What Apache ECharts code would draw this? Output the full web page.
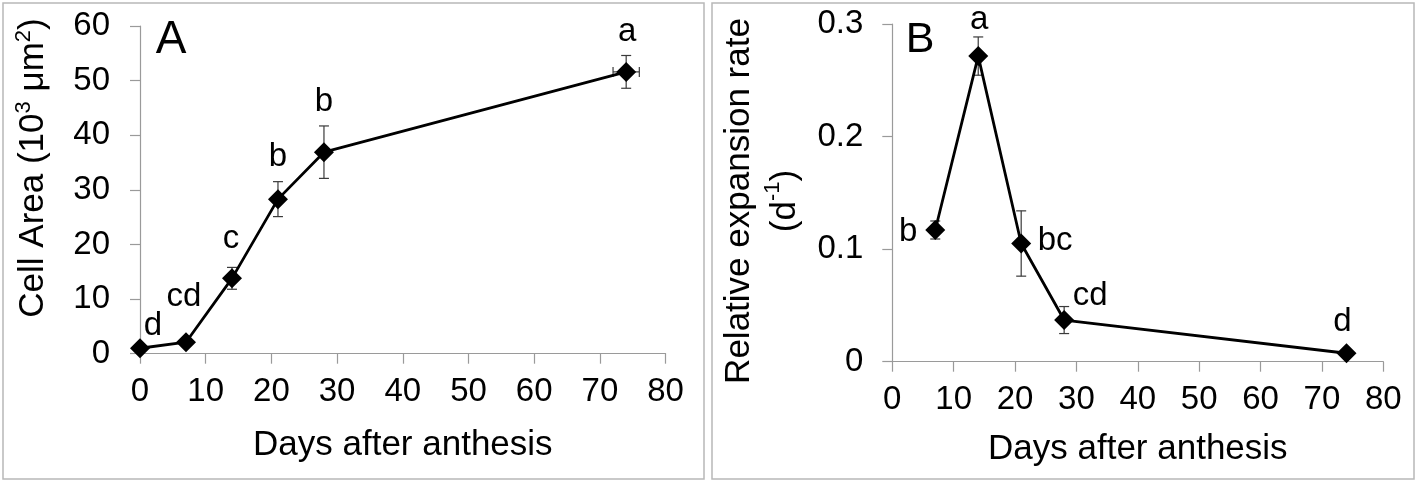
<!DOCTYPE html>
<html><head><meta charset="utf-8">
<script src="https://cdn.jsdelivr.net/npm/echarts@6/dist/echarts.min.js"></script>
<style>html,body{margin:0;padding:0;background:#fff}#c{width:1418px;height:481px}</style>
</head><body><div id="c"></div><script>
// ---- data ----
const daysA = [0, 7, 14, 21, 28, 74];
const areaA = [1.0, 2.1, 13.8, 28.3, 36.9, 51.6];
const areaErrA = [0.4, 0.5, 2.0, 3.2, 4.8, 3.0];
const dayErrA = [0, 0, 0, 0, 0, 2.0];
const lettersA = ['d', 'cd', 'c', 'b', 'b', 'a'];

const daysB = [7, 14, 21, 28, 74];
const rateB = [0.117, 0.2715, 0.105, 0.037, 0.0075];
const rateErrB = [0.008, 0.017, 0.029, 0.012, 0.002];
const lettersB = ['b', 'a', 'bc', 'cd', 'd'];

const xTicks = [0, 10, 20, 30, 40, 50, 60, 70, 80];
const yTicksA = [0, 10, 20, 30, 40, 50, 60];
const yTicksB = [0, 0.1, 0.2, 0.3];

// ---- styling (label placement relative to the marker, px) ----
const labOffA = [[13, -22], [-2, -45], [-1, -39], [0, -42], [0, -50], [1, -40]];
const labOffB = [[-27, 2], [1, -36], [34, -3], [26, -24], [-4, -31]];

const FONT = "'Liberation Sans', Arial, sans-serif";
const AX = '#9a9a9a';

function errRender(params, api) {
  const x = api.value(0), y = api.value(1), ey = api.value(2), ex = api.value(3);
  const c = api.coord([x, y]);
  const st = { stroke: '#3a3a3a', lineWidth: 1.2 };
  const cap = 5;
  const ch = [];
  if (ey > 0) {
    const t = api.coord([x, y + ey]), b = api.coord([x, y - ey]);
    ch.push({ type: 'line', shape: { x1: c[0], y1: t[1], x2: c[0], y2: b[1] }, style: st });
    ch.push({ type: 'line', shape: { x1: c[0] - cap, y1: t[1], x2: c[0] + cap, y2: t[1] }, style: st });
    ch.push({ type: 'line', shape: { x1: c[0] - cap, y1: b[1], x2: c[0] + cap, y2: b[1] }, style: st });
  }
  if (ex > 0) {
    const l = api.coord([x - ex, y]), r = api.coord([x + ex, y]);
    ch.push({ type: 'line', shape: { x1: l[0], y1: c[1], x2: r[0], y2: c[1] }, style: st });
    ch.push({ type: 'line', shape: { x1: l[0], y1: c[1] - cap, x2: l[0], y2: c[1] + cap }, style: st });
    ch.push({ type: 'line', shape: { x1: r[0], y1: c[1] - cap, x2: r[0], y2: c[1] + cap }, style: st });
  }
  return { type: 'group', children: ch };
}

function xAxisCfg(idx, gap) {
  return {
    type: 'value', gridIndex: idx, min: xTicks[0], max: xTicks[xTicks.length - 1], interval: 10,
    name: 'Days after anthesis', nameLocation: 'middle', nameGap: gap,
    nameTextStyle: { fontSize: 35, color: '#000', fontFamily: FONT },
    axisLine: { show: true, lineStyle: { color: AX, width: 1.2 } },
    axisTick: { show: true, length: 10, lineStyle: { color: AX, width: 1.2 } },
    axisLabel: { fontSize: 33, color: '#000', fontFamily: FONT, margin: 22 },
    splitLine: { show: false }
  };
}
function yAxisCfg(idx, ticks, margin) {
  return {
    type: 'value', gridIndex: idx, min: ticks[0], max: ticks[ticks.length - 1], interval: ticks[1] - ticks[0],
    axisLine: { show: true, lineStyle: { color: AX, width: 1.2 } },
    axisTick: { show: true, length: 10, lineStyle: { color: AX, width: 1.2 } },
    axisLabel: { fontSize: 33, color: '#000', fontFamily: FONT, margin: margin,
      formatter: v => String(Math.round(v * 1000) / 1000) },
    splitLine: { show: false }
  };
}
function lineSeries(idx, xs, ys, letters, offs) {
  return {
    type: 'line', xAxisIndex: idx, yAxisIndex: idx, z: 3,
    data: xs.map((d, i) => ({ value: [d, ys[i]], label: { offset: offs[i] } })),
    symbol: 'diamond', symbolSize: 20,
    itemStyle: { color: '#000' },
    lineStyle: { color: '#000', width: 2.8 },
    label: { show: true, position: 'inside', formatter: p => letters[p.dataIndex],
      fontSize: 33, color: '#000', fontFamily: FONT, textBorderWidth: 0 },
    emphasis: { disabled: true }, animation: false
  };
}

const chart = echarts.init(document.getElementById('c'), null, { renderer: 'canvas' });
chart.setOption({
  backgroundColor: '#fff',
  animation: false,
  grid: [
    { left: 140, top: 26, width: 525.6, height: 327.7 },
    { left: 892.3, top: 24, width: 491, height: 337.7 }
  ],
  xAxis: [xAxisCfg(0, 74), xAxisCfg(1, 70)],
  yAxis: [yAxisCfg(0, yTicksA, 30), yAxisCfg(1, yTicksB, 29)],
  series: [
    { type: 'custom', xAxisIndex: 0, yAxisIndex: 0, z: 2, renderItem: errRender,
      encode: { x: 0, y: 1 }, silent: true,
      data: daysA.map((d, i) => [d, areaA[i], areaErrA[i], dayErrA[i]]) },
    { type: 'custom', xAxisIndex: 1, yAxisIndex: 1, z: 2, renderItem: errRender,
      encode: { x: 0, y: 1 }, silent: true,
      data: daysB.map((d, i) => [d, rateB[i], rateErrB[i], 0]) },
    lineSeries(0, daysA, areaA, lettersA, labOffA),
    lineSeries(1, daysB, rateB, lettersB, labOffB)
  ],
  graphic: [
    { type: 'rect', silent: true, z: 0, shape: { x: 3, y: 3, width: 701, height: 476 },
      style: { fill: 'none', stroke: '#b8b8b8', lineWidth: 1.5 } },
    { type: 'rect', silent: true, z: 0, shape: { x: 712, y: 3, width: 702, height: 476 },
      style: { fill: 'none', stroke: '#b8b8b8', lineWidth: 1.5 } },
    { type: 'text', silent: true, x: 171, y: 40,
      style: { text: 'A', fontSize: 46, fontFamily: FONT, fill: '#000', align: 'center', verticalAlign: 'middle' } },
    { type: 'text', silent: true, x: 920, y: 40,
      style: { text: 'B', fontSize: 43, fontFamily: FONT, fill: '#000', align: 'center', verticalAlign: 'middle' } },
    { type: 'text', silent: true, x: 33, y: 168, rotation: Math.PI / 2,
      style: { text: '{n|Cell Area (10}{s|3}{n| μm}{s|2}{n|)}', align: 'center', verticalAlign: 'middle',
        rich: { n: { fontSize: 35, lineHeight: 40, fontFamily: FONT, fill: '#000' },
                s: { fontSize: 22, lineHeight: 30, verticalAlign: 'top', fontFamily: FONT, fill: '#000' } } } },
    { type: 'text', silent: true, x: 762, y: 201, rotation: Math.PI / 2,
      style: { text: '{n|Relative expansion rate}\n{n|(d}{s|-1}{n|)}', align: 'center', verticalAlign: 'middle',
        rich: { n: { fontSize: 35, lineHeight: 46, fontFamily: FONT, fill: '#000', align: 'center' },
                s: { fontSize: 22, lineHeight: 36, verticalAlign: 'top', fontFamily: FONT, fill: '#000' } } } }
  ]
});
</script></body></html>
